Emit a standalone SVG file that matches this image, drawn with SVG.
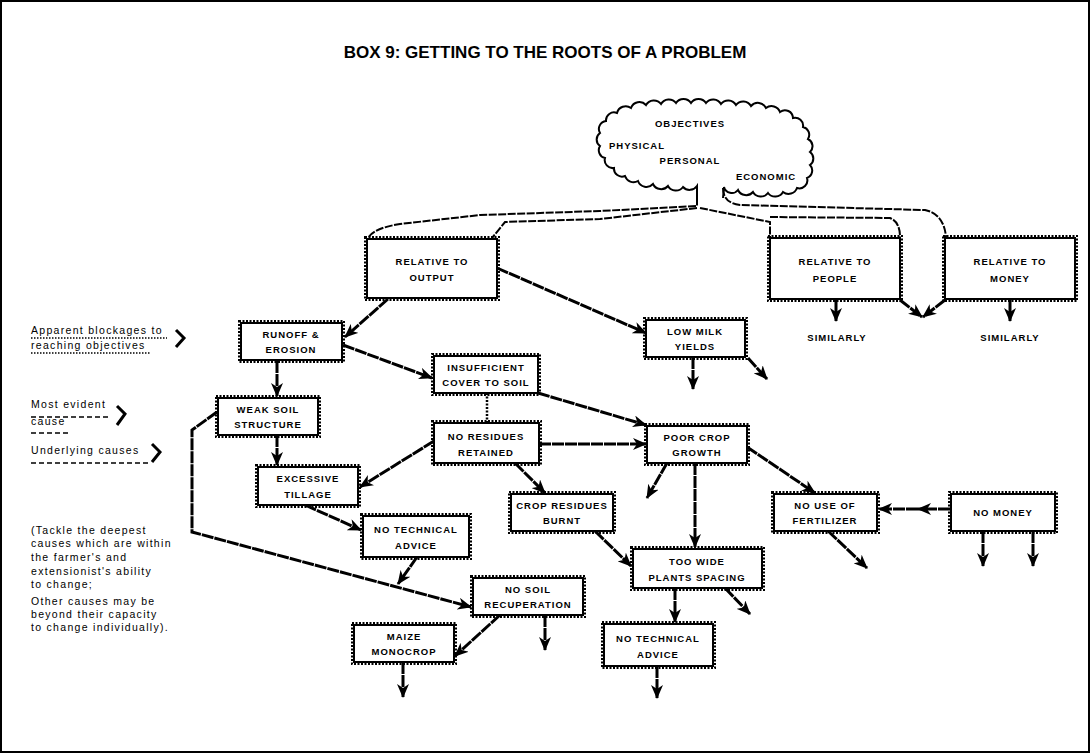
<svg xmlns="http://www.w3.org/2000/svg" width="1090" height="753" viewBox="0 0 1090 753">
<defs>
<marker id="ah" viewBox="0 0 14 12" refX="13" refY="6" markerWidth="14" markerHeight="12" markerUnits="userSpaceOnUse" orient="auto"><path d="M0,0 L14,6 L0,12 L4,6 z" fill="#000"/></marker>
<style>
.t{font-family:"Liberation Sans",Arial,sans-serif;fill:#000}
.title{font-size:17px;font-weight:bold;text-anchor:middle}
.n{font-size:9.5px;font-weight:bold;text-anchor:middle;letter-spacing:1px}
.lg{font-size:10.5px;letter-spacing:1.3px}
.bx{fill:#fff;stroke:#000;stroke-width:2}
.bo{fill:none;stroke:#000;stroke-width:2;stroke-dasharray:2 1.5}
.c{fill:none;stroke:#000;stroke-width:3;stroke-dasharray:12 1;marker-end:url(#ah)}
.cn{fill:none;stroke:#000;stroke-width:2.5;stroke-dasharray:2 1.5}
.r{fill:none;stroke:#000;stroke-width:2;stroke-dasharray:8 1.5}
.ul1{stroke:#000;stroke-width:1.5;stroke-dasharray:1.5 1.5}
.ul2{stroke:#000;stroke-width:1.5;stroke-dasharray:5 3}
.ch{fill:none;stroke:#000;stroke-width:3;stroke-linejoin:miter}
</style>
</defs>
<rect x="1" y="1" width="1088" height="751" fill="#fff" stroke="#000" stroke-width="2"/>
<text class="t title" x="545" y="58">BOX 9: GETTING TO THE ROOTS OF A PROBLEM</text>

<g id="cloud">
<path d="M697,198 L697,186 A9,9 0 0 1 683,187 A9,9 0 0 1 668,186 A9,9 0 0 1 653,184 A9,9 0 0 1 638,181 A9,9 0 0 1 625,176 A8,8 0 0 1 614,168 A8,8 0 0 1 605,158 A8,8 0 0 1 600,146 A8,8 0 0 1 600,133 A8,8 0 0 1 606,121 A8,8 0 0 1 617,113 A9,9 0 0 1 631,108 A9,9 0 0 1 646,105 A9,9 0 0 1 661,104 A9,9 0 0 1 676,103 A9,9 0 0 1 691,103 A9,9 0 0 1 706,103 A9,9 0 0 1 721,104 A9,9 0 0 1 736,105 A9,9 0 0 1 751,106 A9,9 0 0 1 766,108 A9,9 0 0 1 780,112 A8,8 0 0 1 793,118 A8,8 0 0 1 803,127 A8,8 0 0 1 808,139 A8,8 0 0 1 810,152 A8,8 0 0 1 810,165 A8,8 0 0 1 807,178 A8,8 0 0 1 797,188 A9,9 0 0 1 783,192 A9,9 0 0 1 768,193 A9,9 0 0 1 753,192 A9,9 0 0 1 738,190 A8,8 0 0 1 724,187 L723,198" fill="#fff" stroke="#000" stroke-width="2"/>
<text class="t n" x="690" y="127">OBJECTIVES</text>
<text class="t n" x="637" y="149">PHYSICAL</text>
<text class="t n" x="690" y="164">PERSONAL</text>
<text class="t n" x="766" y="180">ECONOMIC</text>
</g>

<g id="connectors">
<path class="r" d="M697,188 L697,206 L600,211 L480,215 L400,224 Q374,228 368,238"/>
<path class="r" d="M697,208 L600,219 L505,222 L492,238"/>
<path class="r" d="M723,188 Q723,203 740,205 L925,210 Q944,214 946,237"/>
<path class="r" d="M700,208 L770,222 L770,237"/>
<path class="r" d="M770,217 L890,218 Q900,222 900,237"/>

<path class="c" d="M388,299 L345,337"/>
<path class="c" d="M497,268 L646,333"/>
<path class="c" d="M343,345 L432,378"/>
<path class="c" d="M277,361 L277,396"/>
<path class="c" d="M277,435 L277,465"/>
<path class="c" d="M538,393 L646,425"/>
<path class="cn" d="M487,393 L487,422"/>
<path class="c" d="M539,444 L646,444"/>
<path class="c" d="M434,441 L360,487"/>
<path class="c" d="M515,463 L545,493"/>
<path class="c" d="M305,505 L361,530"/>
<path class="c" d="M417,557 L398,584"/>
<path class="c" d="M217,412 L192,430 L192,532 L471,607"/>
<path class="c" d="M500,615 L455,656"/>
<path class="c" d="M545,615 L545,650"/>
<path class="c" d="M403,662 L403,697"/>
<path class="c" d="M667,463 L647,498"/>
<path class="c" d="M695,463 L695,547"/>
<path class="c" d="M747,447 L815,493"/>
<path class="c" d="M595,531 L631,566"/>
<path class="c" d="M675,588 L675,622"/>
<path class="c" d="M725,588 L750,614"/>
<path class="c" d="M657,666 L657,698"/>
<path class="c" d="M828,531 L867,568"/>
<path class="c" d="M950,509 L918,509"/>
<path class="c" d="M918,509 L879,509"/>
<path class="c" d="M983,531 L983,566"/>
<path class="c" d="M1033,531 L1033,566"/>
<path class="c" d="M693,357 L693,389"/>
<path class="c" d="M748,358 L767,379"/>
<path class="c" d="M836,300 L836,321"/>
<path class="c" d="M1010,300 L1010,321"/>
<path class="c" d="M900,300 L922,317"/>
<path class="c" d="M945,300 L923,317"/>
</g>

<g id="n-output"><rect class="bx" x="367" y="239" width="130" height="59"/><rect class="bo" x="365" y="237" width="134" height="63"/><text class="t n" x="432" y="265">RELATIVE TO</text><text class="t n" x="432" y="281">OUTPUT</text></g>
<g id="n-people"><rect class="bx" x="770" y="238" width="130" height="61"/><rect class="bo" x="768" y="236" width="134" height="65"/><text class="t n" x="835" y="265">RELATIVE TO</text><text class="t n" x="835" y="282">PEOPLE</text></g>
<g id="n-money"><rect class="bx" x="945" y="238" width="130" height="61"/><rect class="bo" x="943" y="236" width="134" height="65"/><text class="t n" x="1010" y="265">RELATIVE TO</text><text class="t n" x="1010" y="282">MONEY</text></g>
<text class="t n" x="837" y="341">SIMILARLY</text>
<text class="t n" x="1010" y="341">SIMILARLY</text>

<g id="n-runoff"><rect class="bx" x="241" y="323" width="101" height="37"/><rect class="bo" x="239" y="321" width="105" height="41"/><text class="t n" x="291" y="338">RUNOFF &amp;</text><text class="t n" x="291" y="353">EROSION</text></g>
<g id="n-lowmilk"><rect class="bx" x="646" y="320" width="99" height="37"/><rect class="bo" x="644" y="318" width="103" height="41"/><text class="t n" x="695" y="335">LOW MILK</text><text class="t n" x="695" y="350">YIELDS</text></g>
<g id="n-insuff"><rect class="bx" x="434" y="356" width="104" height="37"/><rect class="bo" x="432" y="354" width="108" height="41"/><text class="t n" x="486" y="371">INSUFFICIENT</text><text class="t n" x="486" y="386">COVER TO SOIL</text></g>
<g id="n-weak"><rect class="bx" x="218" y="398" width="100" height="37"/><rect class="bo" x="216" y="396" width="104" height="41"/><text class="t n" x="268" y="413">WEAK SOIL</text><text class="t n" x="268" y="428">STRUCTURE</text></g>
<g id="n-nores"><rect class="bx" x="434" y="423" width="105" height="40"/><rect class="bo" x="432" y="421" width="109" height="44"/><text class="t n" x="486" y="440">NO RESIDUES</text><text class="t n" x="486" y="456">RETAINED</text></g>
<g id="n-poor"><rect class="bx" x="647" y="426" width="100" height="37"/><rect class="bo" x="645" y="424" width="104" height="41"/><text class="t n" x="697" y="441">POOR CROP</text><text class="t n" x="697" y="456">GROWTH</text></g>
<g id="n-tillage"><rect class="bx" x="258" y="467" width="100" height="38"/><rect class="bo" x="256" y="465" width="104" height="42"/><text class="t n" x="308" y="482">EXCESSIVE</text><text class="t n" x="308" y="498">TILLAGE</text></g>
<g id="n-burnt"><rect class="bx" x="511" y="494" width="102" height="37"/><rect class="bo" x="509" y="492" width="106" height="41"/><text class="t n" x="562" y="509">CROP RESIDUES</text><text class="t n" x="562" y="524">BURNT</text></g>
<g id="n-fert"><rect class="bx" x="774" y="494" width="103" height="37"/><rect class="bo" x="772" y="492" width="107" height="41"/><text class="t n" x="825" y="509">NO USE OF</text><text class="t n" x="825" y="524">FERTILIZER</text></g>
<g id="n-nomoney"><rect class="bx" x="951" y="494" width="104" height="37"/><rect class="bo" x="949" y="492" width="108" height="41"/><text class="t n" x="1003" y="516">NO MONEY</text></g>
<g id="n-advice1"><rect class="bx" x="363" y="516" width="106" height="41"/><rect class="bo" x="361" y="514" width="110" height="45"/><text class="t n" x="416" y="533">NO TECHNICAL</text><text class="t n" x="416" y="549">ADVICE</text></g>
<g id="n-toowide"><rect class="bx" x="633" y="549" width="129" height="39"/><rect class="bo" x="631" y="547" width="133" height="43"/><text class="t n" x="697" y="565">TOO WIDE</text><text class="t n" x="697" y="581">PLANTS SPACING</text></g>
<g id="n-recup"><rect class="bx" x="473" y="578" width="110" height="37"/><rect class="bo" x="471" y="576" width="114" height="41"/><text class="t n" x="528" y="593">NO SOIL</text><text class="t n" x="528" y="608">RECUPERATION</text></g>
<g id="n-maize"><rect class="bx" x="354" y="625" width="100" height="37"/><rect class="bo" x="352" y="623" width="104" height="41"/><text class="t n" x="404" y="640">MAIZE</text><text class="t n" x="404" y="655">MONOCROP</text></g>
<g id="n-advice2"><rect class="bx" x="604" y="624" width="109" height="42"/><rect class="bo" x="602" y="622" width="113" height="46"/><text class="t n" x="658" y="642">NO TECHNICAL</text><text class="t n" x="658" y="658">ADVICE</text></g>

<g id="legend">
<text class="t lg" x="31" y="334">Apparent blockages to</text>
<line class="ul1" x1="31" y1="338" x2="167" y2="338"/>
<text class="t lg" x="31" y="349">reaching objectives</text>
<line class="ul1" x1="31" y1="353" x2="150" y2="353"/>
<path class="ch" d="M176,330 L184,338 L176,347"/>
<text class="t lg" x="31" y="408">Most evident</text>
<line class="ul2" x1="31" y1="417" x2="110" y2="417"/>
<text class="t lg" x="31" y="425">cause</text>
<line class="ul2" x1="31" y1="433" x2="68" y2="433"/>
<path class="ch" d="M117,406 L125,414 L117,425"/>
<text class="t lg" x="31" y="454">Underlying causes</text>
<line class="ul2" x1="31" y1="463" x2="150" y2="463"/>
<path class="ch" d="M152,444 L160,452 L152,462"/>
<text class="t lg" x="31" y="534">(Tackle the deepest</text>
<text class="t lg" x="31" y="547">causes which are within</text>
<text class="t lg" x="31" y="561">the farmer's and</text>
<text class="t lg" x="31" y="575">extensionist's ability</text>
<text class="t lg" x="31" y="588">to change;</text>
<text class="t lg" x="31" y="605">Other causes may be</text>
<text class="t lg" x="31" y="618">beyond their capacity</text>
<text class="t lg" x="31" y="631">to change individually).</text>
</g>
</svg>
